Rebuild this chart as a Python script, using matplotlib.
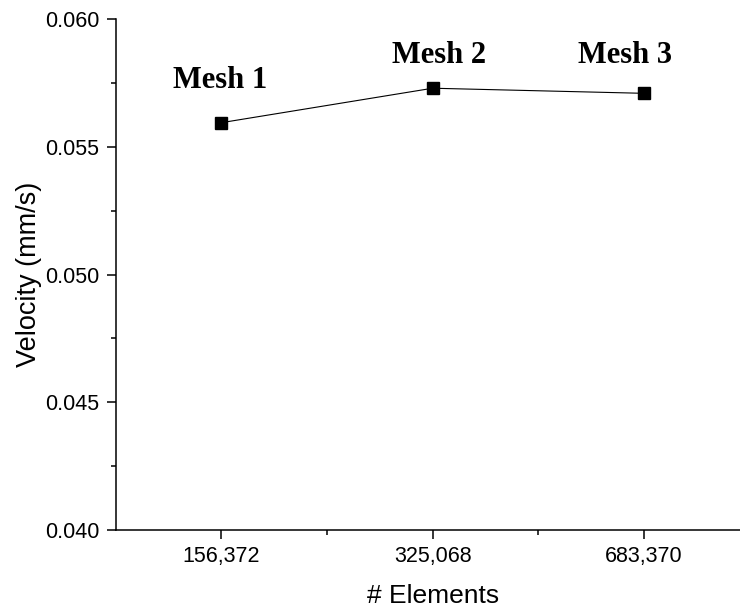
import numpy as np
import matplotlib
matplotlib.use("Agg")
import matplotlib.pyplot as plt
from matplotlib.ticker import MultipleLocator, FixedLocator, FormatStrFormatter

# メッシュ収束性チェックのデータ
mesh_names = ["Mesh 1", "Mesh 2", "Mesh 3"]
elements = ["156,372", "325,068", "683,370"]
velocity = [0.05595, 0.05730, 0.05710]

# ラベル位置 (x, y)
label_pos = [(0.994, 0.05732), (2.032, 0.05828), (2.91, 0.05828)]

plt.rcParams["font.family"] = ["Liberation Sans", "DejaVu Sans"]

fig = plt.figure(figsize=(7.4, 6.08), dpi=100)
ax = fig.add_axes([0.1562, 0.1283, 0.857, 0.84])

x = np.arange(1, len(elements) + 1)
ax.plot(x, velocity, c="k", lw=0.8, marker="s", ms=8, mfc="k", mec="k")

for name, (tx, ty) in zip(mesh_names, label_pos):
    ax.text(tx, ty, name, ha="center", va="baseline", fontsize=22,
            fontweight="bold", family=["Liberation Serif", "DejaVu Serif"])

ax.set_xlim(0.5, 3.5)
ax.set_ylim(0.040, 0.060)
ax.set_xticks(x)
ax.set_xticklabels(elements)
ax.xaxis.set_minor_locator(FixedLocator([1.5, 2.5]))
ax.yaxis.set_major_locator(MultipleLocator(0.005))
ax.yaxis.set_minor_locator(MultipleLocator(0.0025))
ax.yaxis.set_major_formatter(FormatStrFormatter("%.3f"))

ax.spines["top"].set_visible(False)
ax.spines["right"].set_visible(False)
for s in ["left", "bottom"]:
    ax.spines[s].set_linewidth(1.1)

ax.tick_params(which="major", direction="out", length=6.5, width=1.1,
               labelsize=15.5, pad=5)
ax.tick_params(which="minor", direction="out", length=3.4, width=1.1)

ax.set_xlabel("# Elements", fontsize=19, labelpad=12)
ax.set_ylabel("Velocity (mm/s)", fontsize=19.5, labelpad=2)

fig.savefig("out.png", dpi=100)
